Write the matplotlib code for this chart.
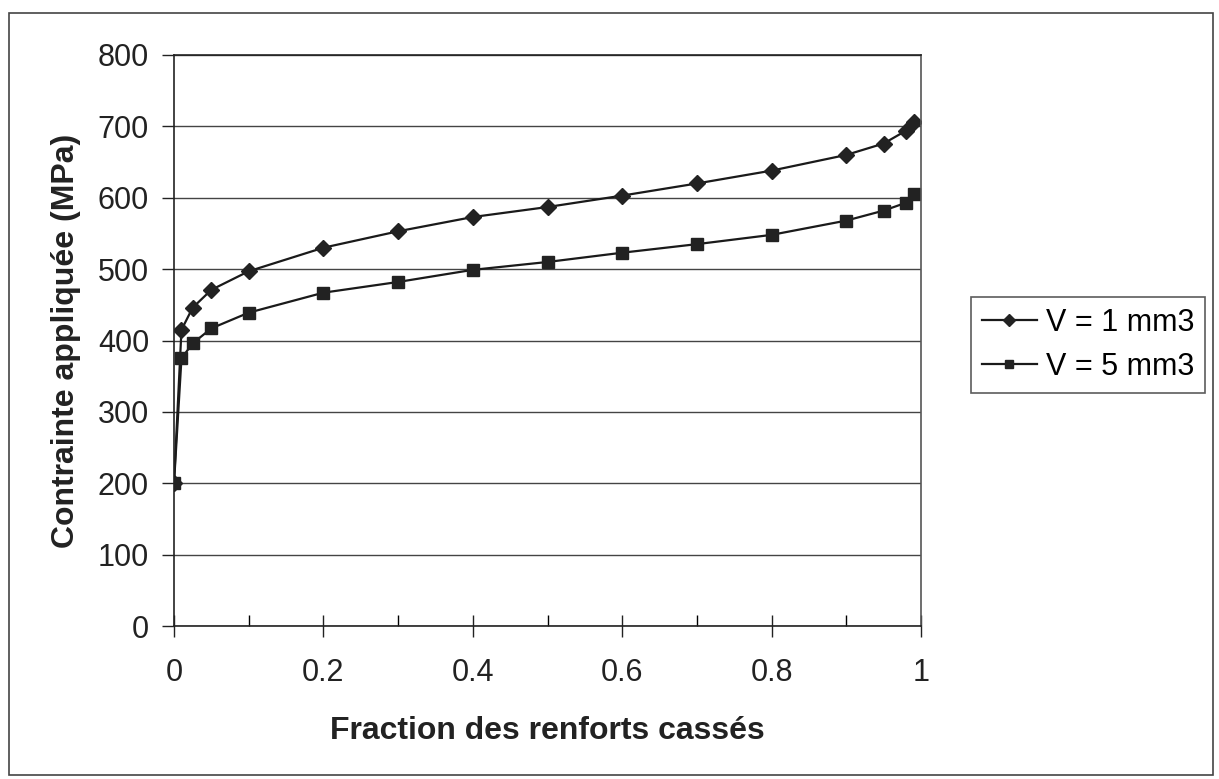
import matplotlib

matplotlib.use("Agg")

import matplotlib.pyplot as plt
from matplotlib.patches import Rectangle
from matplotlib.ticker import MultipleLocator

plt.rcParams["font.family"] = ["Liberation Sans", "DejaVu Sans"]

# fraction of broken reinforcements
fraction = [0, 0.01, 0.025, 0.05, 0.1, 0.2, 0.3, 0.4, 0.5, 0.6, 0.7, 0.8, 0.9, 0.95, 0.98, 0.99]
# applied stress (MPa)
stress_v1 = [200, 415, 446, 471, 497, 530, 553, 573, 587, 603, 620, 638, 660, 676, 694, 706]
stress_v5 = [200, 375, 396, 417, 439, 467, 482, 499, 510, 523, 535, 548, 568, 582, 593, 605]
labels = ["V = 1 mm3", "V = 5 mm3"]

fig = plt.figure(figsize=(12.19, 7.79), dpi=100)
ax = fig.add_axes([174 / 1219, 153 / 779, 747 / 1219, 571 / 779])

ax.plot(fraction, stress_v1, color="#1a1a1a", linewidth=1.6, marker="D",
        markersize=8, markerfacecolor="#222222", markeredgecolor="#222222", label=labels[0])
ax.plot(fraction, stress_v5, color="#1a1a1a", linewidth=1.6, marker="s",
        markersize=8.5, markerfacecolor="#222222", markeredgecolor="#222222", label=labels[1])

ax.set_xlim(0, 1)
ax.set_ylim(0, 800)
ax.xaxis.set_major_locator(MultipleLocator(0.2))
ax.xaxis.set_minor_locator(MultipleLocator(0.1))
ax.yaxis.set_major_locator(MultipleLocator(100))
ax.set_xticks([0, 0.2, 0.4, 0.6, 0.8, 1])
ax.set_xticklabels(["0", "0.2", "0.4", "0.6", "0.8", "1"])

ax.grid(axis="y", color="#444444", linewidth=1.0)
ax.set_axisbelow(True)
for side in ["left", "bottom", "right", "top"]:
    ax.spines[side].set_color("#222222")
    ax.spines[side].set_linewidth(1.2)
ax.spines["right"].set_color("#555555")

ax.tick_params(axis="y", direction="out", length=9, width=1.0, labelsize=22, pad=9, colors="#222222")
ax.tick_params(axis="x", which="major", direction="inout", length=16, width=1.0, labelsize=22, pad=15,
               colors="#222222")
ax.tick_params(axis="x", which="minor", direction="in", length=8, width=1.0)

ax.set_xlabel("Fraction des renforts cassés", fontsize=23, fontweight="bold", labelpad=20, color="#222222")
ax.set_ylabel("Contrainte appliquée (MPa)", fontsize=23, fontweight="bold", labelpad=12, color="#222222")

leg = fig.legend(loc="center left", bbox_to_anchor=(971 / 1219, 1 - 345 / 779), fontsize=22,
                 frameon=True, fancybox=False, handlelength=1.8, handletextpad=0.3,
                 borderpad=0.35, labelspacing=0.45, borderaxespad=0)
leg.get_frame().set_edgecolor("#333333")
leg.get_frame().set_linewidth(1.2)
for h in leg.legend_handles:
    h.set_markersize(6)

fig.patches.append(Rectangle((9 / 1219, 4 / 779), 1204 / 1219, 762 / 779, transform=fig.transFigure,
                             fill=False, edgecolor="#444444", linewidth=1.2))

fig.savefig("out.png", dpi=100)
